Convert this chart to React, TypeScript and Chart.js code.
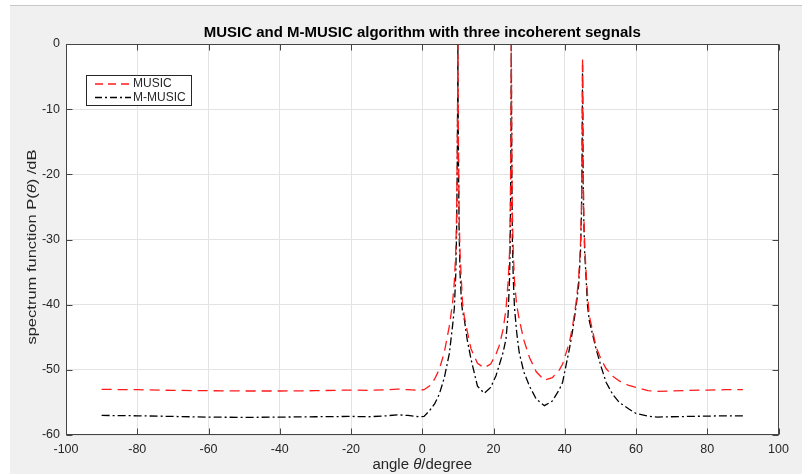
import React, { useEffect, useRef } from 'react';
import { Chart, registerables } from 'chart.js';

Chart.register(...registerables);

// ---- data ----
const angles = [
  -90, -80, -70, -60, -50, -40, -30, -20, -15, -10, -7, -4, -1, 0.5,
  2, 3.5, 4.8, 6.2, 7.6, 8.5, 9.0, 9.4, 9.65, 9.82, 9.93, 10,
  10.07, 10.18, 10.35, 10.6, 11.0, 11.3, 11.8, 12.6, 13.7, 15.5, 17.4, 19.2,
  20.7, 21.6, 22.7, 23.5, 24.1, 24.5, 24.7, 24.85, 24.94, 25,
  25.06, 25.15, 25.3, 25.55, 25.9, 26.5, 27.2, 28.5, 30.1, 32, 34.3, 36.5,
  38.5, 39.4, 41.3, 42.2, 43.2, 43.9, 44.4, 44.7, 44.87, 44.95, 45,
  45.05, 45.13, 45.3, 45.6, 46.1, 46.4, 46.9, 48.8, 50.2, 51.6, 53.5, 55.3,
  58, 60, 63.3, 66, 70, 75, 80, 85, 90,
];

const musicValues = [
  -53.0, -53.05, -53.15, -53.2, -53.25, -53.25, -53.2, -53.1, -53.15, -53.05, -52.95, -53.05, -53.15, -53.05,
  -52.5, -51.4, -49.9, -47.3, -43.3, -39.8, -36.5, -32, -26, -17, -8, 0,
  -8, -17, -26, -32, -36.5, -39.7, -41.8, -44, -46.8, -49.0, -49.7, -49.1,
  -47.6, -46.3, -43.8, -40.7, -36.5, -32, -26, -17, -8, 0,
  -8, -17, -26, -32, -36.5, -40.0, -42.2, -45.4, -48.1, -50.3, -51.6, -51.2,
  -50.0, -49.1, -45.8, -43.3, -39.6, -36, -31, -25, -16, -8, -2.1,
  -8, -16, -25, -31, -36, -38.5, -41.7, -46.5, -48.4, -49.8, -51.0, -51.7,
  -52.4, -52.7, -53.2, -53.3, -53.25, -53.15, -53.1, -53.05, -53.05,
];

const mMusicValues = [
  -57.0, -57.05, -57.15, -57.25, -57.3, -57.25, -57.2, -57.15, -57.2, -57.05, -56.9, -57.0, -57.2, -57.15,
  -56.3, -55.2, -53.7, -51.2, -47.5, -43.3, -40.6, -35.5, -28.5, -19, -9, 0,
  -9, -19, -28.5, -35, -39.5, -41, -42.2, -45.3, -48.4, -52.5, -53.6, -52.7,
  -50.9, -49.3, -47.3, -45.3, -41.5, -36, -30, -20, -9, 0,
  -9, -20, -30, -36, -40.5, -44.2, -47.3, -50.3, -52.5, -54.5, -55.5, -54.8,
  -53.0, -51.9, -46.8, -44.0, -40.2, -37, -32, -26, -17, -9, -3.2,
  -9, -17, -26, -32, -37, -40.2, -42.5, -46.8, -49.5, -51.9, -53.8, -55.0,
  -56.0, -56.7, -57.1, -57.25, -57.2, -57.15, -57.1, -57.05, -57.05,
];

const xTicks = [-100, -80, -60, -40, -20, 0, 20, 40, 60, 80, 100];
const yTicks = [-60, -50, -40, -30, -20, -10, 0];
const seriesLabels = ['MUSIC', 'M-MUSIC'];
const titleText = 'MUSIC and M-MUSIC algorithm with three incoherent segnals';
const xTitleParts = [
  { t: 'angle ', italic: false },
  { t: '\u03b8', italic: true },
  { t: '/degree', italic: false },
];
const yTitleParts = [
  { t: 'spectrum function P(', italic: false },
  { t: '\u03b8', italic: true },
  { t: ') /dB', italic: false },
];

const FONT = '"Liberation Sans", Arial, Helvetica, sans-serif';
const TEXT = '#262626';
const RED = '#ff1a1a';
const BLACK = '#000000';
const RED_DASH = [10, 6];
const BLACK_DASH = [8, 3, 2, 3];

function drawMixed(
  ctx: CanvasRenderingContext2D,
  parts: { t: string; italic: boolean; bold?: boolean }[],
  cx: number,
  cy: number,
  rot: number,
  size: number,
  stretch: number,
  color: string
) {
  ctx.save();
  ctx.translate(cx, cy);
  ctx.rotate(rot);
  ctx.scale(stretch, 1);
  ctx.textBaseline = 'middle';
  ctx.textAlign = 'left';
  ctx.fillStyle = color;
  const fonts = parts.map(
    (p) => `${p.italic ? 'italic ' : ''}${p.bold ? 'bold ' : ''}${size}px ${FONT}`
  );
  const widths = parts.map((p, i) => {
    ctx.font = fonts[i];
    return ctx.measureText(p.t).width;
  });
  const total = widths.reduce((s, w) => s + w, 0);
  let x = -total / 2;
  parts.forEach((p, i) => {
    ctx.font = fonts[i];
    ctx.fillText(p.t, x, 0);
    x += widths[i];
  });
  ctx.restore();
}

const framePlugin = {
  id: 'matlabFrame',
  beforeDraw(chart: any) {
    const { ctx, chartArea: a } = chart;
    ctx.save();
    ctx.fillStyle = '#ffffff';
    ctx.fillRect(a.left, a.top, a.right - a.left, a.bottom - a.top);
    ctx.restore();
  },
  afterDraw(chart: any) {
    const { ctx, chartArea: a } = chart;
    const xs = chart.scales.x;
    const ys = chart.scales.y;
    const L = Math.round(a.left) + 0.5;
    const R = Math.round(a.right) - 0.5;
    const T = Math.round(a.top) + 0.5;
    const B = Math.round(a.bottom) - 0.5;
    const tl = 6;

    ctx.save();
    // inward ticks
    ctx.strokeStyle = '#444444';
    ctx.lineWidth = 1;
    ctx.setLineDash([]);
    ctx.beginPath();
    xTicks.forEach((v) => {
      const px = Math.round(xs.getPixelForValue(v)) + 0.5;
      ctx.moveTo(px, B);
      ctx.lineTo(px, B - tl);
      ctx.moveTo(px, T);
      ctx.lineTo(px, T + tl);
    });
    yTicks.forEach((v) => {
      const py = Math.round(ys.getPixelForValue(v)) + 0.5;
      ctx.moveTo(L, py);
      ctx.lineTo(L + tl, py);
      ctx.moveTo(R, py);
      ctx.lineTo(R - tl, py);
    });
    ctx.stroke();
    // box
    ctx.strokeRect(L, T, R - L, B - T);

    // legend
    const bx = Math.round(a.left + 20) + 0.5;
    const by = Math.round(a.top + 31) + 0.5;
    const bw = 105;
    const bh = 30;
    ctx.fillStyle = '#ffffff';
    ctx.fillRect(bx, by, bw, bh);
    ctx.strokeStyle = '#262626';
    ctx.strokeRect(bx, by, bw, bh);
    const rows = [
      { label: seriesLabels[0], color: RED, dash: [8, 5], y: by + 8.5 },
      { label: seriesLabels[1], color: BLACK, dash: [7, 3, 2, 3], y: by + 22 },
    ];
    rows.forEach((r) => {
      ctx.strokeStyle = r.color;
      ctx.lineWidth = 1.3;
      ctx.setLineDash(r.dash);
      ctx.beginPath();
      ctx.moveTo(bx + 8.5, r.y);
      ctx.lineTo(bx + 44.5, r.y);
      ctx.stroke();
      ctx.setLineDash([]);
      ctx.fillStyle = TEXT;
      ctx.font = `12px ${FONT}`;
      ctx.textAlign = 'left';
      ctx.textBaseline = 'middle';
      ctx.fillText(r.label, bx + 46.5, r.y);
    });
    ctx.restore();

    // title
    drawMixed(
      ctx,
      [{ t: titleText, italic: false, bold: true }],
      (a.left + a.right) / 2,
      33,
      0,
      14,
      1.07,
      '#000000'
    );
    // axis titles
    drawMixed(ctx, xTitleParts, (a.left + a.right) / 2, 465, 0, 14, 1.07, TEXT);
    drawMixed(ctx, yTitleParts, 33, 247, -Math.PI / 2, 12.5, 1.32, TEXT);
  },
};

export default function App() {
  const ref = useRef<HTMLCanvasElement | null>(null);

  useEffect(() => {
    if (!ref.current) return;
    const chart = new Chart(ref.current, {
      type: 'line',
      data: {
        datasets: [
          {
            label: seriesLabels[0],
            data: angles.map((a, i) => ({ x: a, y: musicValues[i] })),
            borderColor: RED,
            borderWidth: 1.3,
            borderDash: RED_DASH,
            pointRadius: 0,
            tension: 0,
            fill: false,
          },
          {
            label: seriesLabels[1],
            data: angles.map((a, i) => ({ x: a, y: mMusicValues[i] })),
            borderColor: BLACK,
            borderWidth: 1.3,
            borderDash: BLACK_DASH,
            pointRadius: 0,
            tension: 0,
            fill: false,
          },
        ],
      },
      options: {
        animation: false,
        responsive: false,
        maintainAspectRatio: false,
        devicePixelRatio: 1,
        layout: { padding: { left: 0, right: 23.5, top: 44, bottom: 0 } },
        plugins: {
          legend: { display: false },
          title: { display: false },
          tooltip: { enabled: false },
        },
        scales: {
          x: {
            type: 'linear',
            min: -100,
            max: 100,
            afterFit: (s: any) => {
              s.height = 39;
            },
            afterBuildTicks: (s: any) => {
              s.ticks = xTicks.map((v) => ({ value: v }));
            },
            ticks: {
              color: TEXT,
              font: { family: FONT, size: 12.5 },
              padding: 7,
              maxRotation: 0,
              autoSkip: false,
            },
            grid: { color: '#e3e3e3', lineWidth: 1, drawTicks: false },
            border: { display: false },
          },
          y: {
            type: 'linear',
            min: -60,
            max: 0,
            afterFit: (s: any) => {
              s.width = 66;
            },
            afterBuildTicks: (s: any) => {
              s.ticks = yTicks.map((v) => ({ value: v }));
            },
            ticks: {
              color: TEXT,
              font: { family: FONT, size: 12.5 },
              padding: 6,
              autoSkip: false,
            },
            grid: { color: '#e3e3e3', lineWidth: 1, drawTicks: false },
            border: { display: false },
          },
        },
      },
      plugins: [framePlugin],
    });
    return () => chart.destroy();
  }, []);

  return (
    <div
      style={{
        position: 'fixed',
        left: 0,
        top: 0,
        width: 802,
        height: 474,
        background: '#ffffff',
        overflow: 'hidden',
      }}
    >
      <div
        style={{
          position: 'absolute',
          left: 10,
          top: 5,
          width: 792,
          height: 469,
          background: '#f0f0f0',
          borderTop: '1px solid #c8c8c8',
        }}
      />
      <canvas
        ref={ref}
        width={802}
        height={474}
        style={{ position: 'absolute', left: 0, top: 0, width: 802, height: 474 }}
      />
    </div>
  );
}
